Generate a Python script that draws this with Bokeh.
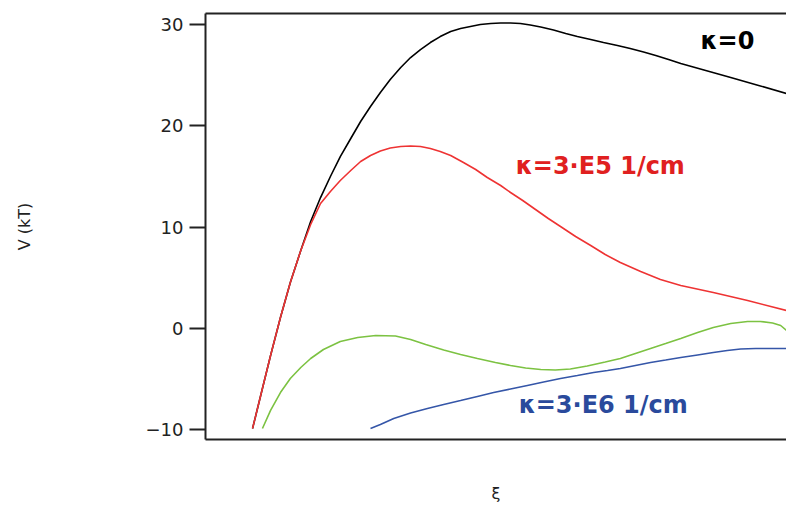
from bokeh.plotting import figure
from bokeh.models import Range1d, FixedTicker, LinearAxis, Label
from bokeh.embed import file_html
from bokeh.resources import INLINE

# --- data (x in arbitrary units of xi, y in kT) ---
x_k0 = [0.81, 0.95, 1.12, 1.29, 1.46, 1.64, 1.81, 1.98, 2.15, 2.32, 2.50, 2.67, 2.84,
        3.01, 3.18, 3.36, 3.53, 3.70, 3.87, 4.04, 4.22, 4.39, 4.56, 4.73, 4.91, 5.08,
        5.25, 5.42, 5.59, 5.77, 5.99, 6.20, 6.40, 6.63, 6.85, 7.09, 7.31, 7.54, 7.75,
        7.97, 8.18, 8.61, 9.04, 9.52, 10.0]
y_k0 = [-9.90, -6.64, -2.69, 1.06, 4.52, 7.68, 10.54, 12.91, 14.99, 16.96, 18.74, 20.42,
        21.90, 23.28, 24.57, 25.75, 26.74, 27.53, 28.22, 28.81, 29.31, 29.60, 29.80, 30.00,
        30.10, 30.15, 30.15, 30.10, 29.95, 29.75, 29.46, 29.11, 28.81, 28.52, 28.22, 27.93,
        27.63, 27.28, 26.94, 26.54, 26.15, 25.46, 24.77, 23.98, 23.19]

x_k5 = [0.81, 0.95, 1.12, 1.29, 1.46, 1.64, 1.81, 1.98, 2.15, 2.32, 2.50, 2.67, 2.84,
        3.01, 3.18, 3.36, 3.53, 3.70, 3.87, 4.04, 4.22, 4.44, 4.65, 4.85, 5.08, 5.25,
        5.46, 5.68, 5.90, 6.11, 6.37, 6.63, 6.88, 7.14, 7.49, 7.83, 8.18, 8.74, 9.33, 10.0]
y_k5 = [-9.90, -6.64, -2.69, 1.06, 4.52, 7.68, 10.25, 12.32, 13.51, 14.59, 15.58, 16.47,
        17.06, 17.51, 17.80, 17.95, 18.00, 17.95, 17.75, 17.46, 17.06, 16.37, 15.68, 14.89,
        14.10, 13.41, 12.62, 11.73, 10.84, 10.05, 9.06, 8.17, 7.28, 6.49, 5.61, 4.81, 4.22,
        3.53, 2.74, 1.75]

x_k6a = [0.98, 1.12, 1.29, 1.46, 1.64, 1.81, 2.03, 2.32, 2.62, 2.93, 3.27, 3.53, 3.79,
         4.10, 4.39, 4.68, 4.99, 5.25, 5.51, 5.77, 6.02, 6.28, 6.57, 6.88, 7.14, 7.40,
         7.66, 7.92, 8.18, 8.47, 8.74, 9.04, 9.33, 9.55, 9.76, 9.90, 10.0]
y_k6a = [-9.90, -8.12, -6.35, -4.96, -3.88, -2.99, -2.10, -1.31, -0.91, -0.72, -0.77,
         -1.11, -1.61, -2.15, -2.59, -2.99, -3.38, -3.68, -3.93, -4.07, -4.12, -4.03,
         -3.73, -3.33, -2.99, -2.49, -2.00, -1.51, -1.01, -0.42, 0.07, 0.47, 0.67, 0.67,
         0.52, 0.27, -0.22]

x_k6 = [2.84, 3.01, 3.24, 3.53, 3.82, 4.10, 4.39, 4.68, 4.96, 5.25, 5.54, 5.82, 6.11,
        6.40, 6.68, 6.92, 7.14, 7.40, 7.66, 7.92, 8.18, 8.47, 8.74, 8.98, 9.21, 9.47, 10.0]
y_k6 = [-9.90, -9.51, -8.91, -8.37, -7.93, -7.53, -7.14, -6.74, -6.35, -6.00, -5.65,
        -5.31, -4.96, -4.67, -4.37, -4.17, -3.98, -3.68, -3.38, -3.14, -2.89, -2.64,
        -2.40, -2.20, -2.05, -2.00, -2.00]

y_ticks = [-10, 0, 10, 20, 30]

AX = "#222222"

p = figure(width=786, height=505,
           x_range=Range1d(0, 10), y_range=Range1d(-10.99, 31.09),
           output_backend="svg", toolbar_location=None,
           min_border_left=205, min_border_right=0,
           min_border_top=13, min_border_bottom=66)
p.grid.visible = False
p.outline_line_color = None
p.background_fill_color = "white"
p.border_fill_color = "white"

# bottom axis: line only, with the xi label
xa = p.xaxis[0]
xa.ticker = FixedTicker(ticks=[])
xa.axis_line_width = 2
xa.axis_line_color = AX
xa.major_tick_line_color = None
xa.minor_tick_line_color = None
xa.major_label_text_font_size = "0px"
xa.major_label_standoff = 0
xa.axis_label = "\u03be"
xa.axis_label_text_font = "DejaVu Sans"
xa.axis_label_text_font_size = "16px"
xa.axis_label_text_font_style = "normal"
xa.axis_label_text_color = AX
xa.axis_label_standoff = 44

# top line
top = LinearAxis(ticker=FixedTicker(ticks=[]), axis_line_width=2, axis_line_color=AX,
                 major_tick_line_color=None, minor_tick_line_color=None,
                 major_label_text_font_size="0px", major_label_standoff=0)
p.add_layout(top, "above")

ya = p.yaxis[0]
ya.ticker = FixedTicker(ticks=y_ticks)
ya.axis_line_width = 2
ya.axis_line_color = AX
ya.major_tick_out = 16
ya.major_tick_in = 0
ya.major_tick_line_width = 2
ya.major_tick_line_color = AX
ya.minor_tick_line_color = None
ya.major_label_standoff = 6
ya.major_label_text_font = "DejaVu Sans"
ya.major_label_text_font_size = "18px"
ya.major_label_text_color = AX
ya.axis_label = "V (kT)"
ya.axis_label_text_font = "DejaVu Sans"
ya.axis_label_text_font_size = "16px"
ya.axis_label_text_font_style = "normal"
ya.axis_label_text_color = AX
ya.axis_label_standoff = 109

p.line(x_k0, y_k0, line_color="black", line_width=1.6)
p.line(x_k5, y_k5, line_color="#ee3333", line_width=1.6)
p.line(x_k6a, y_k6a, line_color="#7cc242", line_width=1.6)
p.line(x_k6, y_k6, line_color="#3556a8", line_width=1.6)

def lab(x, y, t, c):
    p.add_layout(Label(x=x, y=y, text=t, text_font="DejaVu Sans", text_font_style="bold",
                       text_font_size="24px", text_color=c, text_baseline="middle",
                       text_align="left"))

lab(8.52, 28.42, "\u03ba=0", "black")
lab(5.34, 16.07, "\u03ba=3\u00b7E5 1/cm", "#e02020")
lab(5.39, -7.63, "\u03ba=3\u00b7E6 1/cm", "#2a4a9c")

open("out.html", "w").write(file_html(p, INLINE))
